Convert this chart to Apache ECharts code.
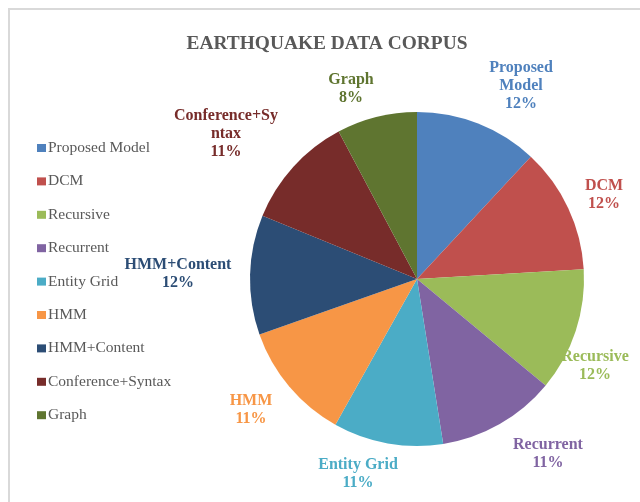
<!DOCTYPE html>
<html>
<head>
<meta charset="utf-8">
<script src="https://cdn.jsdelivr.net/npm/echarts@6/dist/echarts.min.js"></script>
<style>
  html, body { margin: 0; padding: 0; background: #ffffff; }
  #chart { width: 640px; height: 502px; }
</style>
</head>
<body>
<div id="chart"></div>
<script>
// Corpus share per model (percent)
const categories = ['Proposed Model', 'DCM', 'Recursive', 'Recurrent', 'Entity Grid', 'HMM', 'HMM+Content', 'Conference+Syntax', 'Graph'];
const shares = [11.9, 12.1, 11.9, 11.45, 10.6, 11.45, 11.55, 11.0, 7.75];
// Wrapped names used in the slice labels
const labelNames = ['Proposed\nModel', 'DCM', 'Recursive', 'Recurrent', 'Entity Grid', 'HMM', 'HMM+Content', 'Conference+Sy\nntax', 'Graph'];

const colors = ['#4F81BD', '#C0504D', '#9BBB59', '#8064A2', '#4BACC6', '#F79646', '#2C4D75', '#772C2A', '#5F7530'];

// Label anchor points (label centres) around the pie
const labelSpots = [
  [521, 86], [604, 195], [595, 366], [548, 454], [358, 474],
  [251, 410], [178, 274], [226, 134], [351, 89]
];

const total = shares.reduce((a, b) => a + b, 0);
const serif = '"Liberation Serif", "Times New Roman", serif';

const chart = echarts.init(document.getElementById('chart'), null, { renderer: 'canvas' });
chart.setOption({
  backgroundColor: '#ffffff',
  animation: false,
  color: colors,
  graphic: [{
    type: 'rect',
    shape: { x: 9, y: 9, width: 700, height: 600 },
    style: { fill: 'none', stroke: '#d9d9d9', lineWidth: 2 },
    silent: true
  }],
  title: {
    text: 'EARTHQUAKE DATA CORPUS',
    left: 322,
    top: 29,
    textAlign: 'center',
    textStyle: { fontFamily: serif, fontWeight: 'bold', fontSize: 19.4, color: '#595959' }
  },
  legend: {
    orient: 'vertical',
    left: 32,
    top: 135,
    icon: 'rect',
    itemWidth: 9,
    itemHeight: 8,
    itemGap: 17.4,
    data: categories,
    textStyle: { fontFamily: serif, fontSize: 15.5, color: '#595959', lineHeight: 16, padding: [0, 0, 0, -3] }
  },
  series: [{
    type: 'pie',
    center: [417, 279],
    radius: 167,
    startAngle: 90,
    clockwise: true,
    avoidLabelOverlap: false,
    data: categories.map((name, i) => ({ name: name, value: shares[i] })),
    label: {
      show: true,
      position: 'outside',
      fontFamily: serif,
      fontWeight: 'bold',
      fontSize: 16,
      lineHeight: 18,
      align: 'center',
      formatter: p => labelNames[p.dataIndex] + '\n' + Math.round(p.value / total * 100) + '%',
      color: 'inherit'
    },
    labelLine: { show: false },
    labelLayout: function (params) {
      const s = labelSpots[params.dataIndex];
      return { x: s[0], y: s[1], align: 'center', verticalAlign: 'middle' };
    },
    emphasis: { disabled: true }
  }]
});
</script>
</body>
</html>
